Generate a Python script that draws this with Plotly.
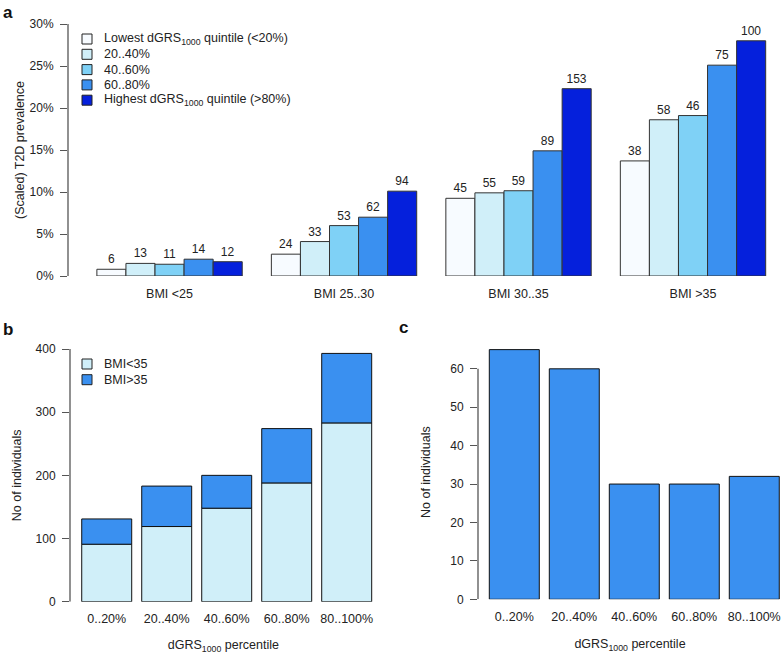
import plotly.graph_objects as go

# ---------------- data ----------------
bmi_groups = ["BMI <25", "BMI 25..30", "BMI 30..35", "BMI >35"]
quintile_names = [
    "Lowest dGRS<sub>1000</sub> quintile (<20%)",
    "20..40%",
    "40..60%",
    "60..80%",
    "Highest dGRS<sub>1000</sub> quintile (>80%)",
]
# prevalence (%) per quintile, for each BMI group
prev_q1 = [0.8, 2.6, 9.25, 13.7]
prev_q2 = [1.5, 4.1, 9.9, 18.6]
prev_q3 = [1.4, 6.0, 10.15, 19.1]
prev_q4 = [2.0, 7.0, 14.9, 25.1]
prev_q5 = [1.7, 10.1, 22.3, 28.0]
# case counts shown above bars
n_q1 = [6, 24, 45, 38]
n_q2 = [13, 33, 55, 58]
n_q3 = [11, 53, 59, 46]
n_q4 = [14, 62, 89, 75]
n_q5 = [12, 94, 153, 100]
prev_ticks = [0, 5, 10, 15, 20, 25, 30]

percentiles = ["0..20%", "20..40%", "40..60%", "60..80%", "80..100%"]
bmi_split_names = ["BMI<35", "BMI>35"]
count_bmi_lt35 = [91, 119, 148, 188, 283]
count_bmi_gt35 = [40, 64, 52, 86, 110]
count_b_ticks = [0, 100, 200, 300, 400]

count_c = [65, 60, 30, 30, 32]
count_c_ticks = [0, 10, 20, 30, 40, 50, 60]

# ---------------- style ----------------
quint_colors = ["#F7FBFF", "#D0EFF9", "#7FD1F6", "#3A90F0", "#0520DC"]
edge = "#333333"
axis_col = "#555555"
txt_col = "#222222"
FONT = "Liberation Sans, Arial, sans-serif"

W, H = 782, 654

def px_x(p):
    return p / W

def px_y(p):
    return 1 - p / H

fig = go.Figure()

prev_series = [prev_q1, prev_q2, prev_q3, prev_q4, prev_q5]
n_series = [n_q1, n_q2, n_q3, n_q4, n_q5]
for i in range(5):
    fig.add_trace(go.Bar(
        x=bmi_groups, y=prev_series[i], name=quintile_names[i],
        marker=dict(color=quint_colors[i], line=dict(color=edge, width=1)),
        text=[str(v) for v in n_series[i]], textposition="outside",
        textfont=dict(size=12, color=txt_col), cliponaxis=False,
        xaxis="x", yaxis="y", showlegend=False,
    ))

fig.add_trace(go.Bar(
    x=percentiles, y=count_bmi_lt35, name=bmi_split_names[0],
    marker=dict(color=quint_colors[1], line=dict(color="#111111", width=1)),
    offsetgroup="b", xaxis="x2", yaxis="y2", showlegend=False,
))
fig.add_trace(go.Bar(
    x=percentiles, y=count_bmi_gt35, base=count_bmi_lt35, name=bmi_split_names[1],
    marker=dict(color=quint_colors[3], line=dict(color="#111111", width=1)),
    offsetgroup="b", xaxis="x2", yaxis="y2", showlegend=False,
))
fig.add_trace(go.Bar(
    x=percentiles, y=count_c, name="No of individuals",
    marker=dict(color=quint_colors[3], line=dict(color="#111111", width=1)),
    xaxis="x3", yaxis="y3", showlegend=False,
))

tickfont = dict(family=FONT, size=12, color=txt_col)
yaxis_common = dict(
    showgrid=False, zeroline=False, ticks="outside", ticklen=7,
    tickcolor=axis_col, tickwidth=1, tickfont=tickfont, ticklabelstandoff=4,
    showline=False, automargin=False, fixedrange=True,
)
xaxis_common = dict(
    showgrid=False, zeroline=False, showline=False, ticks="",
    tickfont=dict(family=FONT, size=12.5, color=txt_col),
    automargin=False, fixedrange=True,
)
title_font = dict(family=FONT, size=12.5, color=txt_col)

fig.update_layout(
    width=W, height=H,
    margin=dict(l=0, r=0, t=0, b=0, pad=0, autoexpand=False),
    paper_bgcolor="white", plot_bgcolor="white",
    font=dict(family=FONT, size=12, color=txt_col),
    barmode="group", bargap=0.167, bargroupgap=0,
    showlegend=False,
    xaxis=dict(xaxis_common, domain=[px_x(68), px_x(780.25)], anchor="y",
               range=[-0.582, 3.5], ticklabelstandoff=8),
    yaxis=dict(yaxis_common, domain=[px_y(276), px_y(24)], anchor="x",
               range=[0, 30], tickvals=prev_ticks,
               ticktext=[f"{v}%" for v in prev_ticks],
               title=dict(text="(Scaled) T2D prevalence", standoff=2,
                          font=title_font)),
    xaxis2=dict(xaxis_common, domain=[px_x(70), px_x(376.7)], anchor="y2",
                range=[-0.612, 4.5], ticklabelstandoff=8,
                title=dict(text="dGRS<sub>1000</sub> percentile", standoff=16,
                           font=title_font)),
    yaxis2=dict(yaxis_common, domain=[px_y(601.7), px_y(349)], anchor="x2",
                range=[0, 400], tickvals=count_b_ticks,
                title=dict(text="No of individuals", standoff=11,
                           font=title_font)),
    xaxis3=dict(xaxis_common, domain=[px_x(478), 1.0], anchor="y3",
                range=[-0.605, 4.462], ticklabelstandoff=8,
                title=dict(text="dGRS<sub>1000</sub> percentile", standoff=16,
                           font=title_font)),
    yaxis3=dict(yaxis_common, domain=[px_y(599.3), px_y(345)], anchor="x3",
                range=[0, 66.2], tickvals=count_c_ticks,
                title=dict(text="No of individuals", standoff=16,
                           font=title_font)),
)

# R-style axis lines spanning only the tick range
fig.add_shape(type="line", xref="x domain", yref="y", x0=0, x1=0,
              y0=prev_ticks[0], y1=prev_ticks[-1],
              line=dict(color=axis_col, width=1.3))
fig.add_shape(type="line", xref="x2 domain", yref="y2", x0=0, x1=0,
              y0=count_b_ticks[0], y1=count_b_ticks[-1],
              line=dict(color=axis_col, width=1.3))
fig.add_shape(type="line", xref="x3 domain", yref="y3", x0=0, x1=0,
              y0=count_c_ticks[0], y1=count_c_ticks[-1],
              line=dict(color=axis_col, width=1.3))

# R-style legends (compact rows)
def add_legend(names, colors, x_px, y0_px, step_px):
    for k, (nm, col) in enumerate(zip(names, colors)):
        yc = y0_px + k * step_px
        fig.add_shape(type="rect", xref="paper", yref="paper",
                      x0=px_x(x_px), x1=px_x(x_px + 10),
                      y0=px_y(yc + 5), y1=px_y(yc - 5),
                      fillcolor=col, line=dict(color="#222222", width=1))
        fig.add_annotation(text=nm, xref="paper", yref="paper",
                           x=px_x(x_px + 20), y=px_y(yc), xanchor="left",
                           yanchor="middle", showarrow=False,
                           font=dict(family=FONT, size=12.5, color=txt_col))

add_legend(quintile_names, quint_colors, 82, 39, 15.3)
add_legend(bmi_split_names, [quint_colors[1], quint_colors[3]], 82, 364, 15.7)

# panel letters
for letter, xp, yp in [("a", 8, 12), ("b", 8, 329), ("c", 403, 327)]:
    fig.add_annotation(text=f"<b>{letter}</b>", xref="paper", yref="paper",
                       x=px_x(xp), y=px_y(yp), xanchor="center", yanchor="middle",
                       showarrow=False,
                       font=dict(family=FONT, size=17, color="#111111"))

fig.write_html("out.html", config={"displayModeBar": False},
               post_script="document.body.style.margin='0';document.body.style.overflow='hidden';")
